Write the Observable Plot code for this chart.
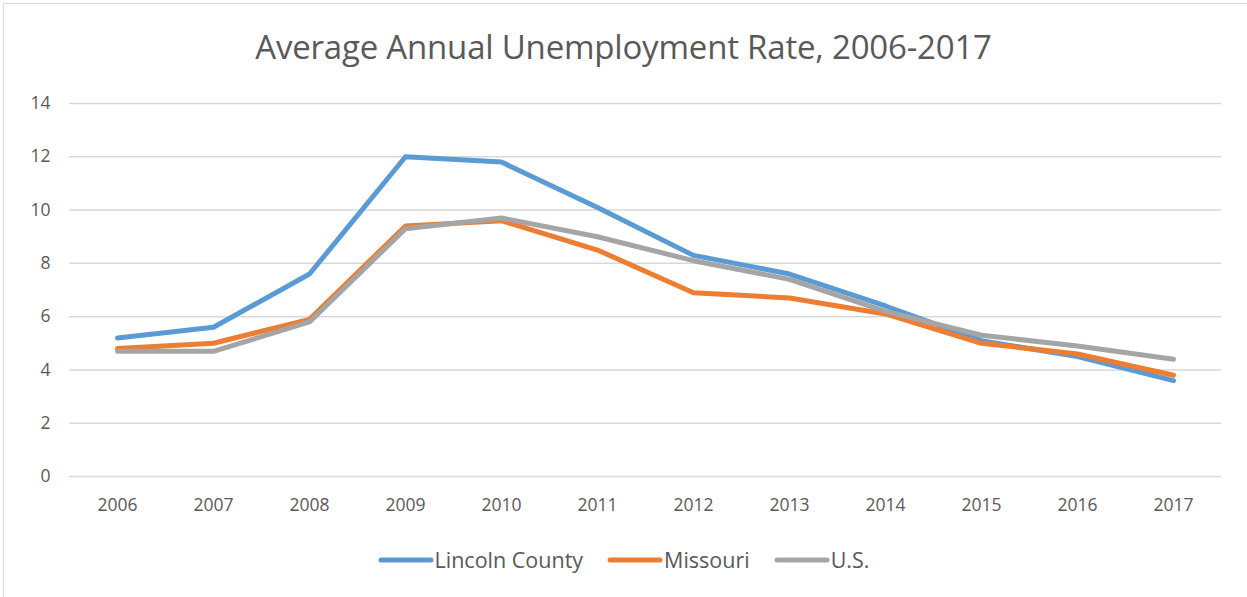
<!DOCTYPE html>
<html>
<head>
<meta charset="utf-8">
<script src="https://cdn.jsdelivr.net/npm/d3@7"></script>
<script src="https://cdn.jsdelivr.net/npm/@observablehq/plot@0.6"></script>
<style>
  html, body { margin: 0; padding: 0; background: #fff; }
  body { width: 1247px; height: 597px; overflow: hidden; position: relative; font-family: "Open Sans", "Liberation Sans", sans-serif; }
  #frame { position: absolute; left: 3px; top: 3px; width: 1260px; height: 610px; border: 1px solid #d9d9d9; box-sizing: border-box; }
  #title { position: absolute; left: 0; top: 24px; width: 1247px; text-align: center; font-size: 33px; color: #595959; font-family: "Open Sans", sans-serif; letter-spacing: -0.2px; }
  #chart { position: absolute; left: 0; top: 90px; }
  #legend { position: absolute; top: 545px; left: 0; width: 1247px; display: flex; justify-content: center; align-items: center; font-size: 21.5px; color: #595959; }
  .item { display: flex; align-items: center; margin: 0 12px; }
  .item svg { margin-right: 1px; }
</style>
</head>
<body>
<div id="frame"></div>
<div id="title">Average Annual Unemployment Rate, 2006-2017</div>
<div id="chart"></div>
<div id="legend"></div>
<script>
const years = ["2006","2007","2008","2009","2010","2011","2012","2013","2014","2015","2016","2017"];
const seriesNames = ["Lincoln County", "Missouri", "U.S."];
const lincoln = [5.2, 5.6, 7.6, 12.0, 11.8, 10.1, 8.3, 7.6, 6.4, 5.1, 4.5, 3.6];
const missouri = [4.8, 5.0, 5.9, 9.4, 9.6, 8.5, 6.9, 6.7, 6.1, 5.0, 4.6, 3.8];
const us = [4.7, 4.7, 5.8, 9.3, 9.7, 9.0, 8.1, 7.4, 6.2, 5.3, 4.9, 4.4];
const yTicks = [0, 2, 4, 6, 8, 10, 12, 14];
const colors = ["#5B9BD5", "#ED7D31", "#A5A5A5"];

const values = [lincoln, missouri, us];
const data = [];
seriesNames.forEach((s, i) => years.forEach((y, j) => data.push({series: s, year: y, value: values[i][j]})));

const chart = Plot.plot({
  width: 1247,
  height: 436,
  marginLeft: 69,
  marginRight: 26,
  marginTop: 13,
  marginBottom: 50,
  style: { fontFamily: "'Open Sans', sans-serif", fontSize: "17.5px", color: "#595959", background: "transparent" },
  x: { type: "point", domain: years, padding: 0.5, label: null, tickSize: 0, tickPadding: 22 },
  y: { domain: [0, 14], ticks: yTicks, label: null, tickSize: 0, tickPadding: 19 },
  color: { domain: seriesNames, range: colors },
  marks: [
    Plot.ruleY(yTicks, { stroke: "#d9d9d9", strokeWidth: 1.5, x1: () => years[0], x2: () => years[years.length-1], insetLeft: -48, insetRight: -48 }),
    Plot.line(data, { x: "year", y: "value", z: "series", stroke: "series", strokeWidth: 5, strokeLinecap: "round", strokeLinejoin: "round" })
  ]
});
chart.querySelectorAll("[aria-label='x-axis tick label'] text, [aria-label='y-axis tick label'] text").forEach(t => t.setAttribute("fill", "#595959"));
document.getElementById("chart").appendChild(chart);

const legend = document.getElementById("legend");
seriesNames.forEach((s, i) => {
  const item = document.createElement("div");
  item.className = "item";
  item.innerHTML = `<svg width="56" height="8"><line x1="3" y1="4" x2="53" y2="4" stroke="${colors[i]}" stroke-width="5" stroke-linecap="round"/></svg><span>${s}</span>`;
  legend.appendChild(item);
});
</script>
</body>
</html>
